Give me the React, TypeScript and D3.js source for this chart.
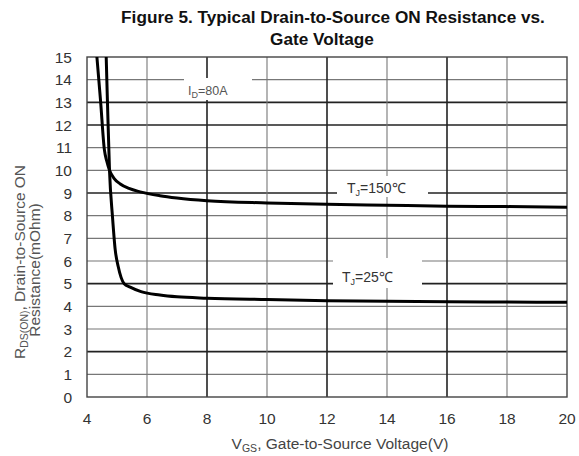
import React from 'react';
import * as d3 from 'd3';

// Vgs (V) vs Rds(on) (mOhm)
const vgs150 = [4.33, 4.45, 4.58, 4.66, 4.75, 4.9, 5.11, 5.4, 5.77, 6.43, 7, 8, 10, 12, 14, 16, 18, 20];
const rds150 = [15, 13.1, 10.9, 10.4, 10.0, 9.65, 9.4, 9.2, 9.05, 8.88, 8.78, 8.66, 8.56, 8.5, 8.46, 8.42, 8.4, 8.37];
const vgs25 = [4.64, 4.68, 4.75, 4.85, 4.94, 5.04, 5.24, 5.44, 5.8, 6.43, 7, 8, 10, 12, 14, 16, 18, 20];
const rds25 = [15, 13.1, 10.0, 7.95, 6.5, 5.76, 5.0, 4.85, 4.65, 4.5, 4.42, 4.36, 4.3, 4.25, 4.22, 4.2, 4.19, 4.18];

const xTicks = [4, 6, 8, 10, 12, 14, 16, 18, 20];
const yTicks = [0, 1, 2, 3, 4, 5, 6, 7, 8, 9, 10, 11, 12, 13, 14, 15];
const xBold = [8, 12, 16];
const yBold = [2, 5, 9, 12, 13];

const W = 579;
const H = 456;
const margin = { top: 57, right: 12, bottom: 59, left: 87 };
const font = '"Liberation Sans", Arial, sans-serif';

const App: React.FC = () => {
    const x = d3.scaleLinear().domain([4, 20]).range([margin.left, W - margin.right]);
    const y = d3.scaleLinear().domain([0, 15]).range([H - margin.bottom, margin.top]);

    const line = d3.line<number[]>()
        .x(d => x(d[0]))
        .y(d => y(d[1]))
        .curve(d3.curveMonotoneX);

    const s150 = vgs150.map((v, i) => [v, rds150[i]]);
    const s25 = vgs25.map((v, i) => [v, rds25[i]]);

    const [x0, x1] = x.range();
    const [y0, y1] = y.range();

    return (
        <div style={{ position: 'absolute', left: 0, top: 0 }}>
            <svg width={W} height={H} style={{ display: 'block', background: '#fff', whiteSpace: 'pre' }} fontFamily={font}>
                <defs>
                    <clipPath id="plot">
                        <rect x={x0} y={y1} width={x1 - x0} height={y0 - y1} />
                    </clipPath>
                </defs>

                {/* title */}
                <text x={333} y={23} textAnchor="middle" fontSize={17.2} fontWeight="bold" fill="#111">
                    Figure 5. Typical Drain-to-Source ON Resistance vs.
                </text>
                <text x={322} y={45} textAnchor="middle" fontSize={17.2} fontWeight="bold" fill="#111">
                    Gate Voltage
                </text>

                {/* grid */}
                {yTicks.filter(t => t > 0 && t < 15).map(t => (
                    <line key={'gy' + t} x1={x0} x2={x1} y1={y(t)} y2={y(t)}
                        stroke={yBold.includes(t) ? '#222' : '#777'}
                        strokeWidth={yBold.includes(t) ? 1.6 : 1.1} />
                ))}
                {xTicks.filter(t => t > 4 && t < 20).map(t => (
                    <line key={'gx' + t} x1={x(t)} x2={x(t)} y1={y0} y2={y1}
                        stroke={xBold.includes(t) ? '#222' : '#777'}
                        strokeWidth={xBold.includes(t) ? 1.6 : 1.1} />
                ))}
                <rect x={x0} y={y1} width={x1 - x0} height={y0 - y1} fill="none" stroke="#444" strokeWidth={1.4} />

                {/* label backgrounds */}
                <rect x={184} y={78} width={68} height={22} fill="#fff" />
                <rect x={337} y={176} width={91} height={21} fill="#fff" />
                <rect x={333} y={258} width={89} height={30} fill="#fff" />

                {/* curves */}
                <g clipPath="url(#plot)" fill="none" stroke="#000" strokeWidth={3} strokeLinejoin="round">
                    <path d={line(s150) || ''} />
                    <path d={line(s25) || ''} />
                </g>

                {/* annotations */}
                <text x={188} y={95} fontSize={12.5} fill="#555">
                    I<tspan fontSize={9} dy={3}>D</tspan><tspan dy={-3}>=80A</tspan>
                </text>
                <text x={347} y={193} fontSize={14} fill="#333">
                    T<tspan fontSize={9} dy={3}>J</tspan><tspan dy={-3}>=150℃</tspan>
                </text>
                <text x={342} y={282} fontSize={14} fill="#333">
                    T<tspan fontSize={9} dy={3}>J</tspan><tspan dy={-3}>=25℃</tspan>
                </text>

                {/* y ticks */}
                {yTicks.map(t => (
                    <text key={'ty' + t} x={72} y={y(t)} dy="0.36em" textAnchor="end" fontSize={15.5} fill="#333">{t}</text>
                ))}
                {/* x ticks */}
                {xTicks.map(t => (
                    <text key={'tx' + t} x={x(t)} y={y0 + 21} dy="0.36em" textAnchor="middle" fontSize={15.5} fill="#333">{t}</text>
                ))}

                {/* axis titles */}
                <text x={340} y={449} textAnchor="middle" fontSize={15.5} fill="#444">
                    V<tspan fontSize={10.5} dy={3}>GS</tspan><tspan dy={-3}>, Gate-to-Source  Voltage(V)</tspan>
                </text>
                <g transform="translate(25,262) rotate(-90)">
                    <text x={0} y={0} textAnchor="middle" fontSize={15.5} fill="#555">
                        R<tspan fontSize={10.5} dy={3}>DS(ON)</tspan><tspan dy={-3}>, Drain-to-Source  ON</tspan>
                    </text>
                    <text x={-8} y={15} textAnchor="middle" fontSize={15.5} fill="#555">Resistance(mOhm)</text>
                </g>
            </svg>
        </div>
    );
};

export default App;
